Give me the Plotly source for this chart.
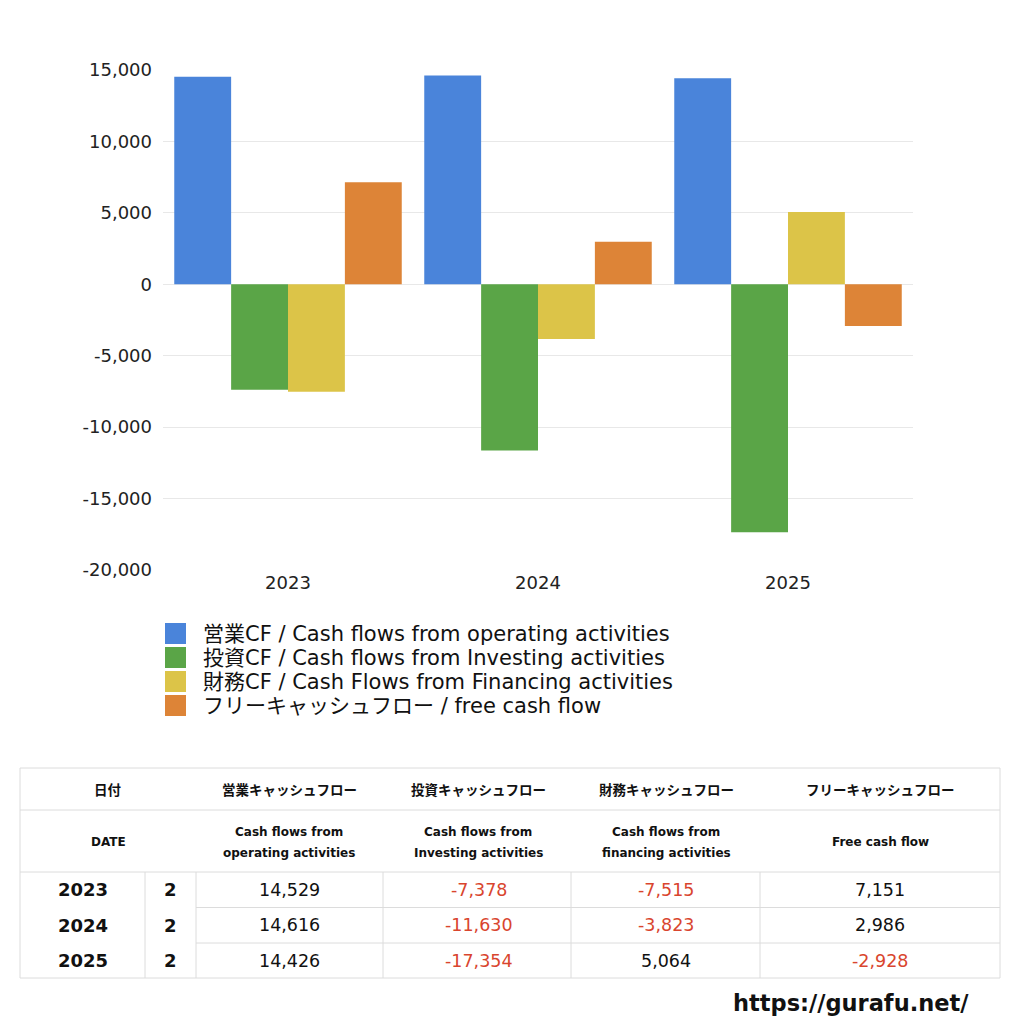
import plotly.graph_objects as go

years = ["2023", "2024", "2025"]
months = ["2", "2", "2"]
operating_cf = [14529, 14616, 14426]
investing_cf = [-7378, -11630, -17354]
financing_cf = [-7515, -3823, 5064]
free_cf = [7151, 2986, -2928]

series_names = [
    "営業CF / Cash flows from operating activities",
    "投資CF / Cash flows from Investing activities",
    "財務CF / Cash Flows from Financing activities",
    "フリーキャッシュフロー / free cash flow",
]
series_values = [operating_cf, investing_cf, financing_cf, free_cf]
series_colors = ["#4a84da", "#5aa547", "#dcc448", "#dd8437"]

head_jp = ["日付", "営業キャッシュフロー", "投資キャッシュフロー", "財務キャッシュフロー", "フリーキャッシュフロー"]
head_en = [["DATE"], ["Cash flows from", "operating activities"], ["Cash flows from", "Investing activities"],
           ["Cash flows from", "financing activities"], ["Free cash flow"]]
y_ticks = [15000, 10000, 5000, 0, -5000, -10000, -15000, -20000]
y_ticktext = [f"{v:,}" for v in y_ticks]

W = H = 1024
LAT = "DejaVu Sans, Noto Sans CJK JP, sans-serif"
JP = "Noto Sans CJK JP, DejaVu Sans, sans-serif"

def px(x):
    return x / W

def py(y):
    return 1 - y / H

fig = go.Figure()
for name, vals, col in zip(series_names, series_values, series_colors):
    fig.add_trace(go.Bar(x=years, y=vals, name=name, marker=dict(color=col, line=dict(width=0))))

fig.update_layout(
    width=W, height=H,
    margin=dict(l=0, r=0, t=0, b=0, autoexpand=False),
    paper_bgcolor="white", plot_bgcolor="white",
    barmode="group", bargap=0.09, bargroupgap=0,
    font=dict(family=LAT, color="#222"),
    xaxis=dict(domain=[px(163), px(913)], type="category", showgrid=False, showline=False,
               ticks="", tickfont=dict(size=18, color="#222"), automargin=False),
    yaxis=dict(domain=[py(570), py(70)], range=[-20000, 15000], tickvals=y_ticks,
               ticktext=y_ticktext, showgrid=True, gridcolor="#e8e8e8", zeroline=True,
               zerolinecolor="#e8e8e8", zerolinewidth=1, showline=False, ticks="",
               tickfont=dict(size=18, color="#222"), ticklabelstandoff=10, automargin=False),
    showlegend=False,
)

shapes = []
annots = []
border = "#dcdcdc"

def hline(x0, x1, y):
    shapes.append(dict(type="line", xref="paper", yref="paper", x0=px(x0), x1=px(x1), y0=py(y), y1=py(y),
                       line=dict(color=border, width=1)))

def vline(x, y0, y1):
    shapes.append(dict(type="line", xref="paper", yref="paper", x0=px(x), x1=px(x), y0=py(y0), y1=py(y1),
                       line=dict(color=border, width=1)))

def text(x, y, s, size, color="#111", bold=False, anchor="center", family=LAT):
    annots.append(dict(xref="paper", yref="paper", x=px(x), y=py(y), text=("<b>%s</b>" % s) if bold else s,
                       showarrow=False, xanchor=anchor, yanchor="middle", borderpad=0,
                       font=dict(size=size, color=color, family=family)))

# manual legend
for i, (name, col) in enumerate(zip(series_names, series_colors)):
    top = 623 + 24 * i
    shapes.append(dict(type="rect", xref="paper", yref="paper", x0=px(165), x1=px(186),
                       y0=py(top + 21), y1=py(top), fillcolor=col, line=dict(width=0)))
    text(202, top + 11, name, 21, color="#111", anchor="left")

tx0, tx1 = 20, 1000
rows_y = [768, 810, 872, 907.5, 943, 978]
col_x = [20, 145, 196, 383, 571, 760, 1000]

hline(tx0, tx1, rows_y[0])
hline(tx0, tx1, rows_y[1])
hline(tx0, tx1, rows_y[2])
hline(col_x[2], tx1, rows_y[3])
hline(col_x[2], tx1, rows_y[4])
hline(tx0, tx1, rows_y[5])
vline(tx0, rows_y[0], rows_y[5])
vline(tx1, rows_y[0], rows_y[5])
for cx in col_x[1:-1]:
    vline(cx, rows_y[2], rows_y[5])

# header
hdr_cx = [108, 289, 478, 666, 880]
for cx, a, b in zip(hdr_cx, head_jp, head_en):
    text(cx, 789, a, 13.5, bold=True, family=JP)
    if len(b) == 1:
        text(cx, 842, b[0], 12, bold=True)
    else:
        text(cx, 832, b[0], 12, bold=True)
        text(cx, 852.5, b[1], 12, bold=True)

# data rows
cols_vals = [operating_cf, investing_cf, financing_cf, free_cf]
col_centers = [289.5, 479, 665.5, 880]
for i, yr in enumerate(years):
    yc = (rows_y[2 + i] + rows_y[3 + i]) / 2
    text(83, yc, yr, 18, bold=True, color="#111")
    text(170, yc, months[i], 18, bold=True, color="#111")
    for cc, vals in zip(col_centers, cols_vals):
        v = vals[i]
        text(cc, yc, f"{v:,}", 17.5, color="#d9452e" if v < 0 else "#111")

# watermark
text(970, 1003, "https://gurafu.net/", 22.5, color="#111", bold=True, anchor="right")

fig.update_layout(shapes=shapes, annotations=annots)
fig.write_html("out.html", config={"displayModeBar": False},
               post_script="document.body.style.margin='0';")
